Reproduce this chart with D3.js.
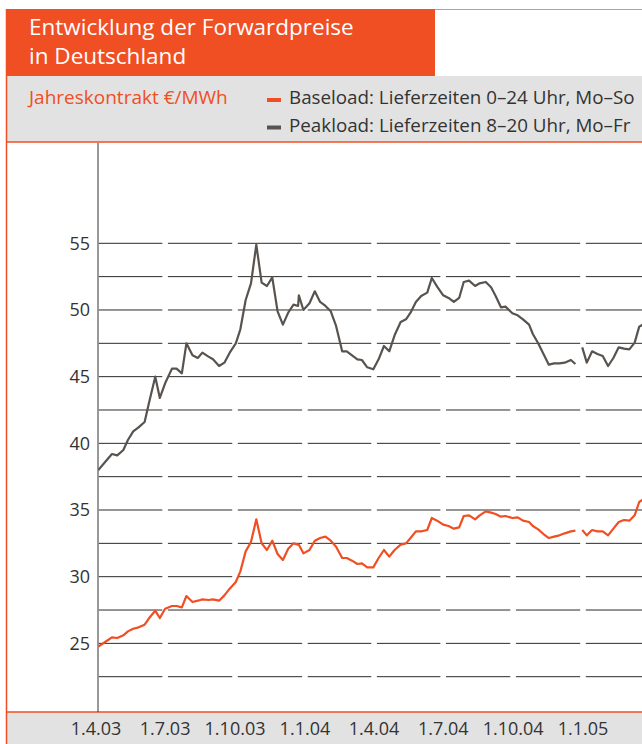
<!DOCTYPE html>
<html>
<head>
<meta charset="utf-8">
<script src="https://cdn.jsdelivr.net/npm/d3@7"></script>
<style>
  body { margin: 0; background: #fff; }
  svg { display: block; font-family: "Open Sans", "Noto Sans", sans-serif; }
</style>
</head>
<body>
<div id="chart"></div>
<script>
// Wochenwerte Jahreskontrakt (€/MWh)
var dates = [
  "2003-04-04","2003-04-13","2003-04-22","2003-04-29","2003-05-07","2003-05-13","2003-05-20","2003-05-27","2003-06-04","2003-06-10",
  "2003-06-18","2003-06-24","2003-07-01","2003-07-10","2003-07-16","2003-07-23","2003-07-29","2003-08-06","2003-08-13","2003-08-19",
  "2003-08-27","2003-09-02","2003-09-10","2003-09-17","2003-09-24","2003-10-02","2003-10-08","2003-10-15","2003-10-22","2003-10-29",
  "2003-11-05","2003-11-12","2003-11-19","2003-11-26","2003-12-03","2003-12-10","2003-12-17","2003-12-23","2003-12-24","2003-12-30",
  "2004-01-07","2004-01-14","2004-01-21","2004-01-28","2004-02-04","2004-02-11","2004-02-19","2004-02-25","2004-03-03","2004-03-10",
  "2004-03-16","2004-03-23","2004-03-31","2004-04-07","2004-04-14","2004-04-21","2004-04-28","2004-05-06","2004-05-13","2004-05-19",
  "2004-05-26","2004-06-02","2004-06-10","2004-06-16","2004-06-23","2004-07-01","2004-07-08","2004-07-15","2004-07-22","2004-07-28",
  "2004-08-04","2004-08-12","2004-08-18","2004-08-26","2004-09-02","2004-09-08","2004-09-15","2004-09-21","2004-09-30","2004-10-07",
  "2004-10-14","2004-10-22","2004-10-27","2004-11-03","2004-11-10","2004-11-17","2004-11-24","2004-12-01","2004-12-08","2004-12-16",
  "2004-12-22","2004-12-27","2004-12-31","2005-01-06","2005-01-13","2005-01-20","2005-01-27","2005-02-03","2005-02-10","2005-02-17",
  "2005-02-24","2005-03-03","2005-03-10","2005-03-16","2005-03-24"
];

var peakload = [
  38.0, 38.6, 39.2, 39.1, 39.5, 40.25, 40.9, 41.2, 41.6, 43.1,
  45.0, 43.4, 44.5, 45.6, 45.6, 45.25, 47.5, 46.6, 46.4, 46.8,
  46.5, 46.3, 45.8, 46.05, 46.8, 47.5, 48.55, 50.75, 52.0, 54.9,
  52.05, 51.8, 52.45, 49.9, 48.9, 49.8, 50.4, 50.3, 51.1, 50.0,
  50.5, 51.4, 50.6, 50.3, 49.9, 48.8, 46.9, 46.9, 46.6, 46.3,
  46.25, 45.7, 45.55, 46.3, 47.3, 46.9, 48.1, 49.1, 49.3, 49.8,
  50.6, 51.05, 51.3, 52.4, 51.75, 51.1, 50.9, 50.6, 50.9, 52.1,
  52.2, 51.8, 52.0, 52.1, 51.7, 51.05, 50.2, 50.25, 49.75, 49.6,
  49.3, 48.9, 48.2, 47.5, 46.7, 45.9, 46.0, 46.0, 46.05, 46.25,
  45.95, null, 47.2, 46.05, 46.9, 46.7, 46.55, 45.8, 46.4, 47.2,
  47.1, 47.05, 47.55, 48.75, 49.0
];

var baseload = [
  24.75, 25.1, 25.45, 25.4, 25.6, 25.9, 26.1, 26.2, 26.4, 26.9,
  27.45, 26.9, 27.6, 27.8, 27.8, 27.7, 28.55, 28.1, 28.2, 28.3,
  28.25, 28.3, 28.2, 28.6, 29.1, 29.6, 30.4, 31.9, 32.6, 34.3,
  32.5, 32.0, 32.7, 31.7, 31.25, 32.1, 32.5, 32.4, 32.4, 31.75,
  32.0, 32.7, 32.9, 33.0, 32.7, 32.25, 31.4, 31.4, 31.2, 30.95,
  31.0, 30.7, 30.7, 31.4, 32.0, 31.5, 32.0, 32.4, 32.5, 32.9,
  33.4, 33.4, 33.5, 34.4, 34.2, 33.9, 33.8, 33.6, 33.7, 34.55,
  34.6, 34.3, 34.6, 34.9, 34.8, 34.7, 34.5, 34.55, 34.4, 34.45,
  34.2, 34.1, 33.8, 33.55, 33.2, 32.9, 33.0, 33.1, 33.25, 33.4,
  33.45, null, 33.5, 33.1, 33.5, 33.4, 33.4, 33.1, 33.6, 34.1,
  34.25, 34.2, 34.6, 35.6, 35.9
];

var quarterTicks = ["2003-04-01","2003-07-01","2003-10-01","2004-01-01","2004-04-01","2004-07-01","2004-10-01","2005-01-01","2005-04-01"];
var quarterLabels = ["1.4.03","1.7.03","1.10.03","1.1.04","1.4.04","1.7.04","1.10.04","1.1.05"];
var yTicks = [25, 30, 35, 40, 45, 50, 55];
var gridValues = [22.5, 25, 27.5, 30, 32.5, 35, 37.5, 40, 42.5, 45, 47.5, 50, 52.5, 55];

var orange = "#f04e23",
    lineGray = "#58534f",
    bandGray = "#e2e2e2",
    W = 642, H = 744;

var parse = d3.timeParse("%Y-%m-%d");

var svg = d3.select("#chart").append("svg")
    .attr("width", W)
    .attr("height", H);

// Kopf
svg.append("rect").attr("x", 6).attr("y", 9).attr("width", 429).attr("height", 67).attr("fill", orange);
svg.append("line").attr("x1", 435).attr("x2", W).attr("y1", 9.5).attr("y2", 9.5)
    .attr("stroke", "#f58a6a").attr("stroke-width", 1);

svg.append("text").attr("x", 29).attr("y", 35).attr("fill", "#fff").attr("font-size", 22.5)
    .text("Entwicklung der Forwardpreise");
svg.append("text").attr("x", 29).attr("y", 64).attr("fill", "#fff").attr("font-size", 22.5)
    .text("in Deutschland");

// Legende
svg.append("rect").attr("x", 6).attr("y", 76).attr("width", W - 6).attr("height", 66).attr("fill", bandGray);
svg.append("line").attr("x1", 6).attr("x2", W).attr("y1", 142).attr("y2", 142)
    .attr("stroke", orange).attr("stroke-width", 1.5);

svg.append("text").attr("x", 29).attr("y", 104).attr("fill", orange).attr("font-size", 19)
    .text("Jahreskontrakt €/MWh");

var legendItems = [
  {color: orange, label: "Baseload: Lieferzeiten 0–24 Uhr, Mo–So"},
  {color: lineGray, label: "Peakload: Lieferzeiten 8–20 Uhr, Mo–Fr"}
];
var legend = svg.selectAll(".legend")
    .data(legendItems)
    .enter().append("g")
    .attr("class", "legend")
    .attr("transform", (d, i) => "translate(267," + (104 + i * 27.5) + ")");
legend.append("rect").attr("x", 0).attr("y", -6).attr("width", 14).attr("height", 4).attr("fill", d => d.color);
legend.append("text").attr("x", 22).attr("y", 0).attr("font-size", 18.8).attr("fill", "#333")
    .text(d => d.label);

// Fußleiste
svg.append("rect").attr("x", 6).attr("y", 712).attr("width", W - 6).attr("height", 32).attr("fill", bandGray);
svg.append("line").attr("x1", 6).attr("x2", W).attr("y1", 712).attr("y2", 712)
    .attr("stroke", orange).attr("stroke-width", 1.5);

// linker Rahmen
svg.append("line").attr("x1", 6.5).attr("x2", 6.5).attr("y1", 9).attr("y2", H)
    .attr("stroke", orange).attr("stroke-width", 1.5);

// Skalen
var x = d3.scaleTime()
    .domain([parse("2003-04-01"), parse("2005-01-01")])
    .range([96, 583]);
var y = d3.scaleLinear()
    .domain([22.5, 55])
    .range([676.7, 243.3]);

var plotLeft = 98, plotRight = W;

// Gitterlinien, je Quartal unterbrochen
var qDates = quarterTicks.map(parse);
var segs = [];
for (var i = 0; i < qDates.length - 1; i++) {
  segs.push({
    x1: Math.max(plotLeft, x(qDates[i]) + 2.8),
    x2: Math.min(plotRight, x(qDates[i + 1]) - 2.8)
  });
}
var grid = svg.append("g").attr("class", "grid");
gridValues.forEach(function(v) {
  grid.selectAll(null)
      .data(segs)
      .enter().append("line")
      .attr("x1", d => d.x1)
      .attr("x2", d => d.x2)
      .attr("y1", y(v))
      .attr("y2", y(v))
      .attr("stroke", "#2b2b2b")
      .attr("stroke-width", 1);
});

// y-Achse
svg.append("line").attr("x1", plotLeft).attr("x2", plotLeft).attr("y1", 143).attr("y2", 712)
    .attr("stroke", "#333").attr("stroke-width", 1);

svg.append("g").selectAll("text")
    .data(yTicks)
    .enter().append("text")
    .attr("x", 90)
    .attr("y", d => y(d))
    .attr("dy", "0.35em")
    .attr("text-anchor", "end")
    .attr("font-size", 18)
    .attr("fill", "#333")
    .text(d => d);

// x-Beschriftung
svg.append("g").selectAll("text")
    .data(quarterLabels)
    .enter().append("text")
    .attr("x", (d, i) => x(qDates[i]))
    .attr("y", 735)
    .attr("text-anchor", "middle")
    .attr("font-size", 18)
    .attr("fill", "#333")
    .text(d => d);

// Linien
svg.append("clipPath").attr("id", "plotClip")
  .append("rect").attr("x", plotLeft).attr("y", 143).attr("width", plotRight - plotLeft).attr("height", 569);

var rows = dates.map((d, i) => ({date: parse(d), peak: peakload[i], base: baseload[i]}));

var series = [
  {key: "peak", color: lineGray},
  {key: "base", color: orange}
];

series.forEach(function(s) {
  var line = d3.line()
      .defined(d => d[s.key] != null)
      .x(d => x(d.date))
      .y(d => y(d[s.key]));
  svg.append("path")
      .datum(rows)
      .attr("clip-path", "url(#plotClip)")
      .attr("fill", "none")
      .attr("stroke", s.color)
      .attr("stroke-width", 2.2)
      .attr("stroke-linejoin", "round")
      .attr("d", line);
});
</script>
</body>
</html>
